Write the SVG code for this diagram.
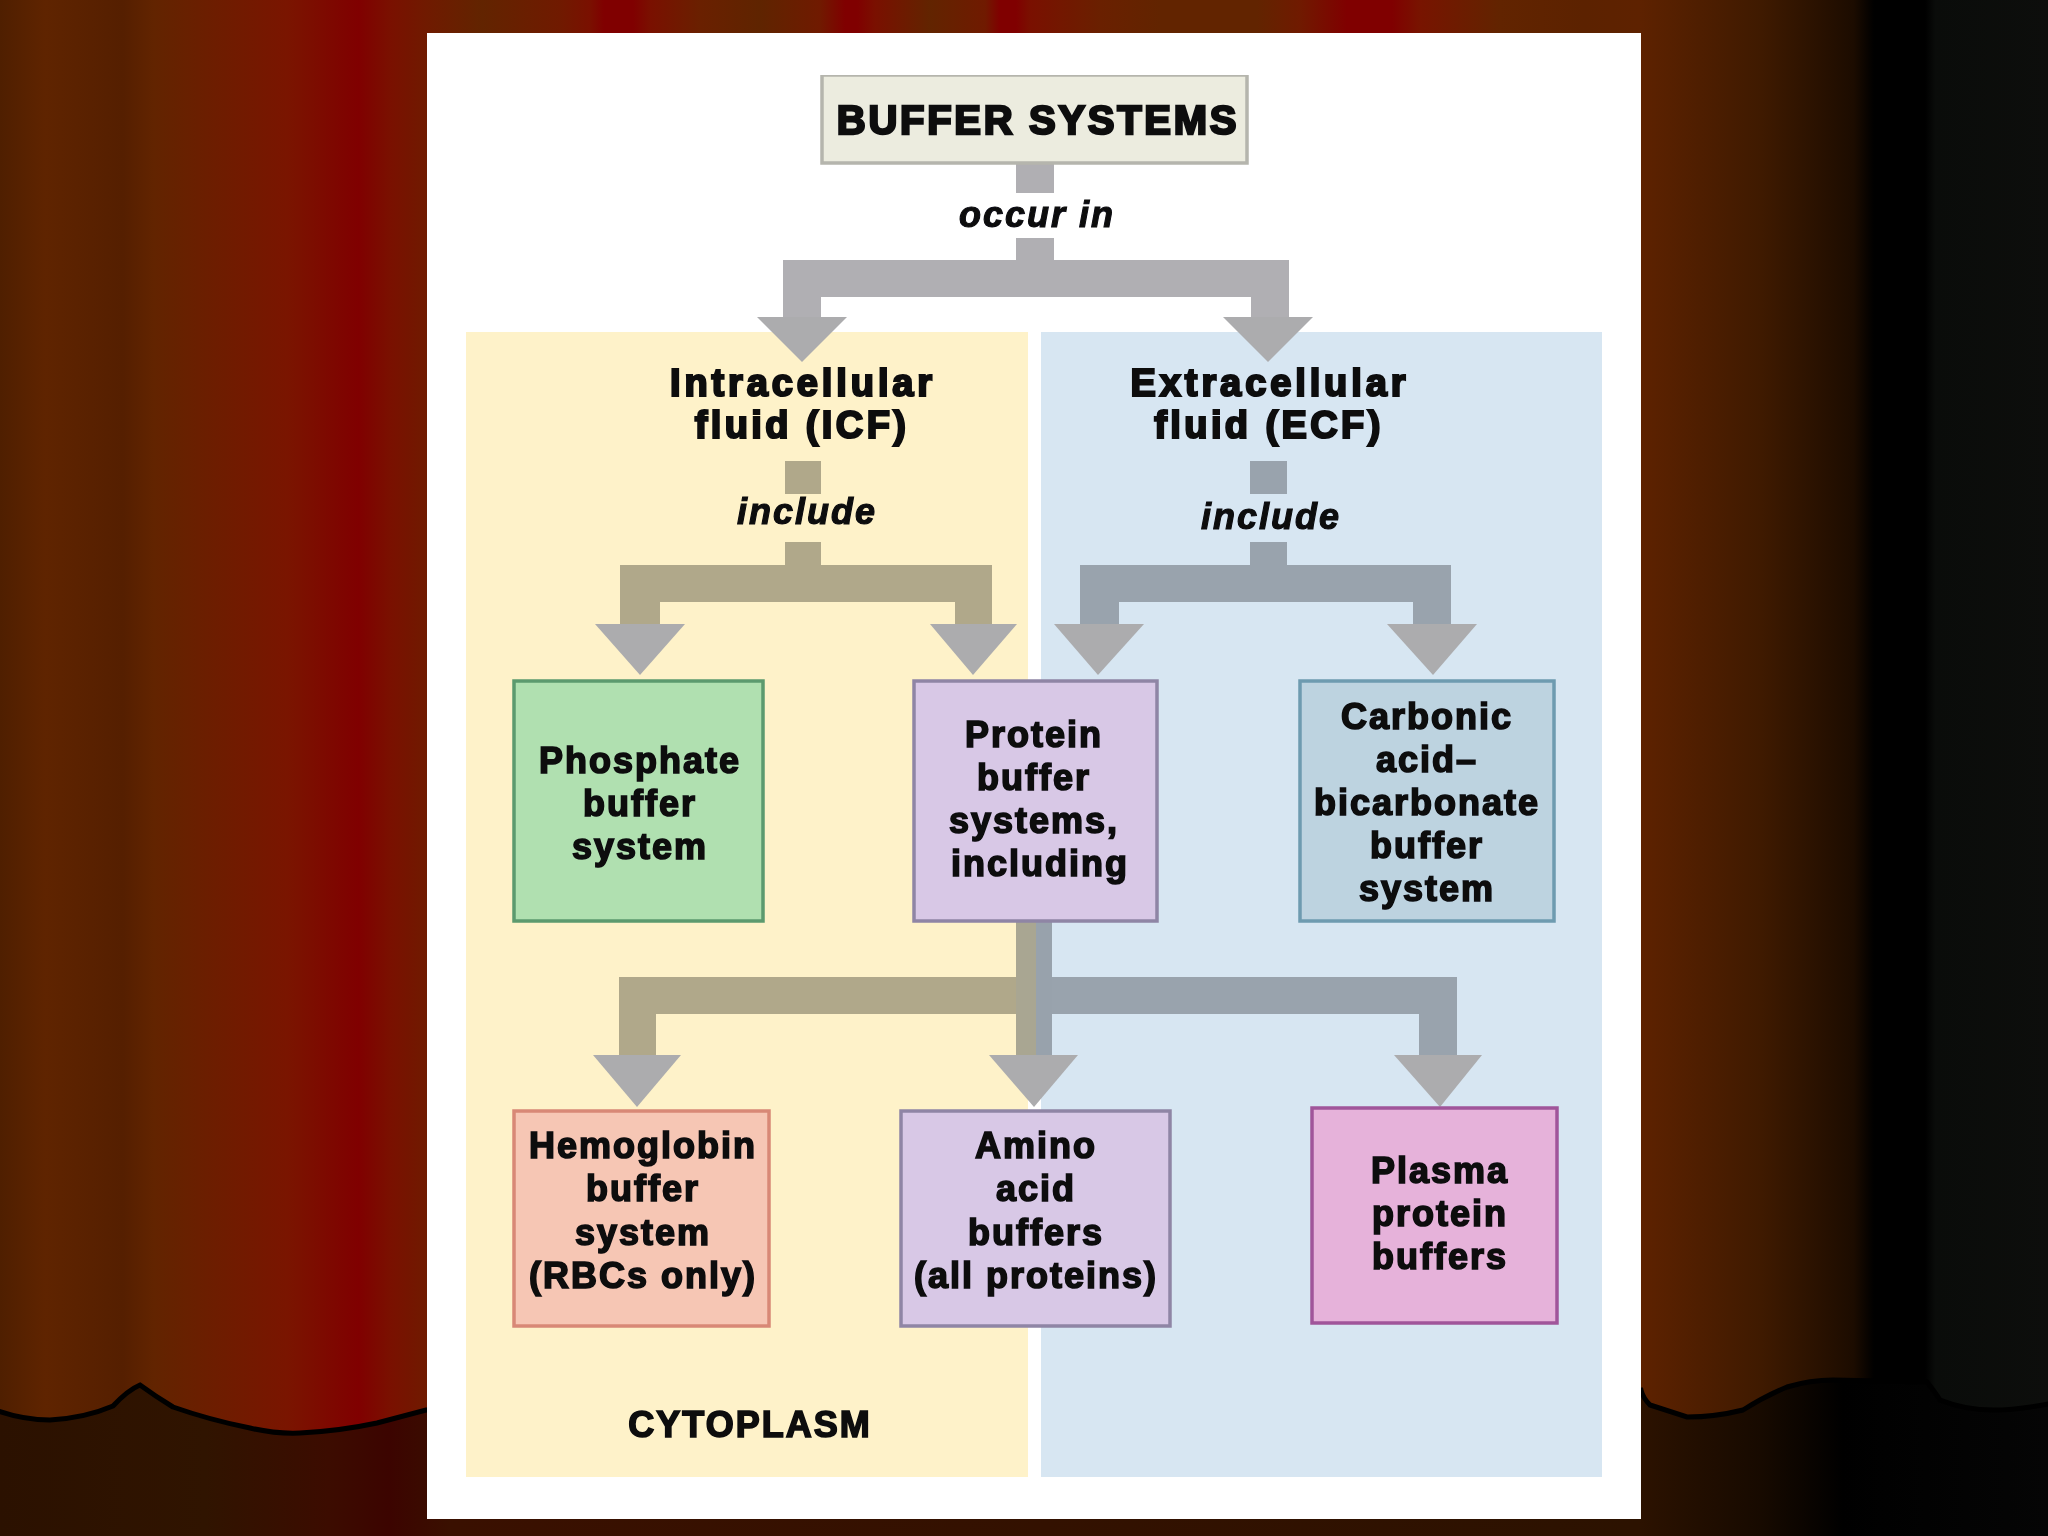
<svg xmlns="http://www.w3.org/2000/svg" width="2048" height="1536" viewBox="0 0 2048 1536">
<style>
text{font-family:"Liberation Sans",Arial,sans-serif;font-weight:700;font-size:36px;fill:#08080c;stroke:#08080c;stroke-width:1.6px;text-anchor:middle;letter-spacing:2px}
.hd{letter-spacing:3.9px;font-size:38px;stroke-width:2.2px}
.it{font-style:italic;stroke-width:1.1px}
.n{stroke-width:3.5}
.a{fill:#acacae}
.g{fill:#b0afb3}.y{fill:#b0a88a}.b{fill:#99a3ad}
</style>
<defs>
<filter id="soft" x="0" y="0" width="100%" height="100%"><feGaussianBlur stdDeviation="0.7"/></filter>
<linearGradient id="cur" gradientUnits="userSpaceOnUse" x1="0" y1="0" x2="2048" y2="0">
<stop offset="0" stop-color="#4f1f00"/><stop offset=".022" stop-color="#5f2400"/><stop offset=".06" stop-color="#551f00"/><stop offset=".075" stop-color="#622400"/><stop offset=".14" stop-color="#7a1500"/><stop offset=".175" stop-color="#800000"/><stop offset=".19" stop-color="#7a1000"/><stop offset=".208" stop-color="#701a00"/><stop offset=".2354" stop-color="#622400"/><stop offset=".2734" stop-color="#701a00"/><stop offset=".2881" stop-color="#7a1000"/><stop offset=".2949" stop-color="#800000"/><stop offset=".3091" stop-color="#800000"/><stop offset=".3174" stop-color="#7a1000"/><stop offset=".3418" stop-color="#6a2000"/><stop offset=".3711" stop-color="#5f2400"/><stop offset=".4004" stop-color="#701a00"/><stop offset=".4126" stop-color="#800000"/><stop offset=".4185" stop-color="#800000"/><stop offset=".4272" stop-color="#7a1000"/><stop offset=".4541" stop-color="#622400"/><stop offset=".481" stop-color="#701a00"/><stop offset=".4883" stop-color="#800000"/><stop offset=".4961" stop-color="#800000"/><stop offset=".5029" stop-color="#7a1000"/><stop offset=".5371" stop-color="#6a2000"/><stop offset=".5664" stop-color="#622400"/><stop offset=".6138" stop-color="#622400"/><stop offset=".6348" stop-color="#701a00"/><stop offset=".6577" stop-color="#800000"/><stop offset=".6797" stop-color="#800000"/><stop offset=".6934" stop-color="#781400"/><stop offset=".7324" stop-color="#622400"/><stop offset=".7734" stop-color="#5c2200"/><stop offset=".8" stop-color="#5e2200"/><stop offset=".86" stop-color="#3f1a00"/><stop offset=".905" stop-color="#1c0c00"/><stop offset=".915" stop-color="#000"/><stop offset=".94" stop-color="#000"/><stop offset=".945" stop-color="#0a0c0a"/><stop offset="1" stop-color="#0d0e0c"/>
</linearGradient>
<linearGradient id="low" gradientUnits="userSpaceOnUse" x1="0" y1="0" x2="2048" y2="0">
<stop offset="0" stop-color="#2b1100"/><stop offset=".1" stop-color="#301400"/><stop offset=".16" stop-color="#3c0c00"/><stop offset=".19" stop-color="#3c0400"/><stop offset=".22" stop-color="#3a1000"/><stop offset=".8" stop-color="#2c1200"/><stop offset=".86" stop-color="#170a00"/><stop offset=".9" stop-color="#000"/><stop offset="1" stop-color="#050505"/>
</linearGradient>
</defs>
<g id="background">
<rect width="2048" height="1536" fill="url(#cur)"/>
<path d="M-10 1408Q20 1420 50 1420Q85 1418 113 1406Q128 1390 140 1385Q155 1396 173 1407Q210 1420 250 1428Q275 1434 300 1433Q340 1431 377 1423L426 1410L1641 1390Q1643 1398 1650 1405L1687 1417Q1715 1417 1743 1410Q1765 1396 1787 1387Q1810 1380 1833 1380L1927 1382Q1935 1392 1940 1400Q1965 1410 1993 1410Q2020 1410 2058 1402V1550H-10Z" fill="url(#low)" stroke="#000" stroke-width="5"/>
<rect x="427" y="33" width="1214" height="1486" fill="#fff"/>
</g>
<g id="diagram" filter="url(#soft)">
<g id="regions">
<rect x="466" y="332" width="562" height="1145" fill="#fef2c9"/>
<rect x="1041" y="332" width="561" height="1145" fill="#d7e6f2"/>
<text x="750" y="1437">CYTOPLASM</text>
</g>
<g id="connectors">
<rect class="g" x="1016" y="163" width="38" height="30"/>
<path class="g" d="M1016 238h38v22h235v57h-38v-20H821v20h-38v-57h233z"/>
<polygon class="a" points="757,317 847,317 802,362"/>
<polygon class="a" points="1223,317 1313,317 1268,362"/>
<text class="it" x="1037" y="227">occur in</text>

<rect class="y" x="785" y="461" width="36" height="33"/>
<path class="y" d="M785 542h36v23h171v59h-37v-22H660v22h-40v-59h165z"/>
<polygon class="a" points="595,624 685,624 640,675"/>
<polygon class="a" points="930,624 1017,624 973,675"/>
<text class="it" x="807" y="524">include</text>

<rect class="b" x="1250" y="461" width="37" height="33"/>
<path class="b" d="M1250 542h37v23h164v59h-38v-22H1119v22h-39v-59h170z"/>
<polygon class="a" points="1054,624 1144,624 1098,675"/>
<polygon class="a" points="1387,624 1477,624 1433,675"/>
<text class="it" x="1271" y="529">include</text>

<path class="y" d="M1016 977v37H656v41h-37v-78z"/>
<path class="b" d="M1052 977h405v78h-38v-41H1052z"/>
<rect x="1016" y="921" width="20" height="134" fill="#a9a692"/>
<rect x="1036" y="921" width="16" height="134" fill="#98a2ac"/>
<polygon class="a" points="593,1055 681,1055 637,1107"/>
<polygon class="a" points="989,1055 1078,1055 1034,1107"/>
<polygon class="a" points="1394,1055 1482,1055 1440,1107"/>
</g>
<g id="buffer-systems"><rect class="n" x="822" y="75" width="425" height="88" fill="#ececdf" stroke="#b5b5ad"/><text style="font-size:40px;letter-spacing:2.7px;stroke-width:2.4px" x="1038" y="134">BUFFER SYSTEMS</text></g>
<g id="icf"><text class="hd" x="803" y="396">Intracellular</text><text class="hd" style="letter-spacing:3.4px" x="802" y="438">fluid (ICF)</text></g>
<g id="ecf"><text class="hd" x="1270" y="396">Extracellular</text><text class="hd" style="letter-spacing:3.4px" x="1269" y="438">fluid (ECF)</text></g>
<g id="phosphate"><rect class="n" x="514" y="681" width="249" height="240" fill="#b0e0b0" stroke="#5b9a6e"/><text x="640" y="773">Phosphate</text><text x="640" y="816">buffer</text><text x="640" y="859">system</text></g>
<g id="protein"><rect class="n" x="914" y="681" width="243" height="240" fill="#d8c8e6" stroke="#8f85a5"/><text x="1034" y="747">Protein</text><text x="1034" y="790">buffer</text><text x="1034" y="833">systems,</text><text x="1040" y="876">including</text></g>
<g id="carbonic"><rect class="n" x="1300" y="681" width="254" height="240" fill="#bdd3e0" stroke="#6e9bb0"/><text x="1427" y="729">Carbonic</text><text x="1427" y="772">acid–</text><text x="1427" y="815">bicarbonate</text><text x="1427" y="858">buffer</text><text x="1427" y="901">system</text></g>
<g id="hemoglobin"><rect class="n" x="514" y="1111" width="255" height="215" fill="#f6c6b4" stroke="#d88876"/><text x="643" y="1158">Hemoglobin</text><text x="643" y="1201">buffer</text><text x="643" y="1245">system</text><text x="643" y="1288">(RBCs only)</text></g>
<g id="amino"><rect class="n" x="901" y="1111" width="269" height="215" fill="#d8c8e6" stroke="#8f85a5"/><text x="1036" y="1158">Amino</text><text x="1036" y="1201">acid</text><text x="1036" y="1245">buffers</text><text x="1036" y="1288">(all proteins)</text></g>
<g id="plasma"><rect class="n" x="1312" y="1108" width="245" height="215" fill="#e6b2da" stroke="#a0559a"/><text x="1440" y="1183">Plasma</text><text x="1440" y="1226">protein</text><text x="1440" y="1269">buffers</text></g>
</g>
</svg>
